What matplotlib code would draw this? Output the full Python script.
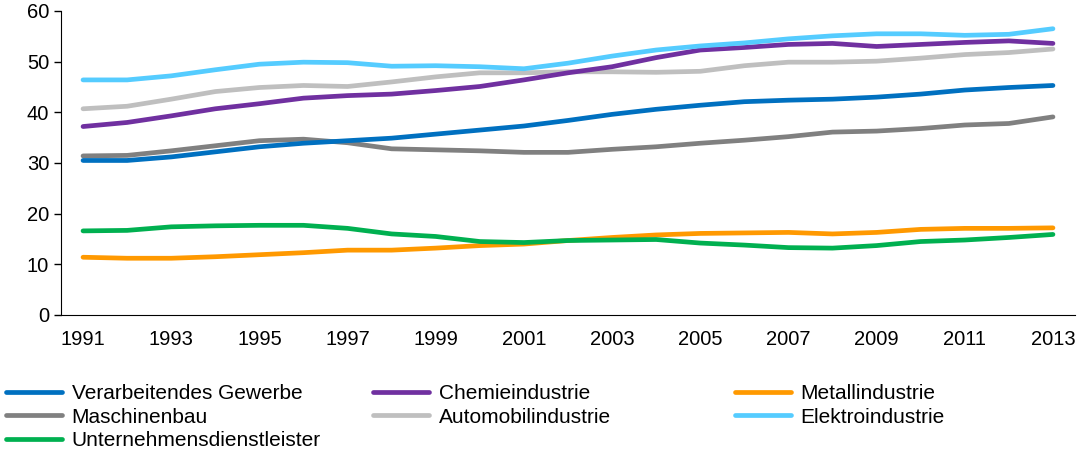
import numpy as np
import matplotlib.pyplot as plt

plt.rcParams['font.family'] = ['Liberation Sans', 'DejaVu Sans']

years = list(range(1991, 2014))

verarbeitendes = [30.5, 30.5, 31.2, 32.2, 33.2, 33.9, 34.4, 34.9, 35.7, 36.5, 37.3, 38.4,
                  39.6, 40.6, 41.4, 42.1, 42.4, 42.6, 43.0, 43.6, 44.4, 44.9, 45.3]
chemie = [37.2, 38.0, 39.3, 40.7, 41.7, 42.8, 43.3, 43.6, 44.3, 45.1, 46.4, 47.8,
          49.0, 50.8, 52.3, 52.8, 53.4, 53.6, 53.0, 53.4, 53.8, 54.1, 53.6]
metall = [11.4, 11.2, 11.2, 11.5, 11.9, 12.3, 12.8, 12.8, 13.2, 13.7, 14.0, 14.7,
          15.3, 15.8, 16.1, 16.2, 16.3, 16.0, 16.3, 16.9, 17.1, 17.1, 17.2]
maschinenbau = [31.4, 31.5, 32.4, 33.4, 34.4, 34.7, 34.0, 32.8, 32.6, 32.4, 32.1, 32.1,
                32.7, 33.2, 33.9, 34.5, 35.2, 36.1, 36.3, 36.8, 37.5, 37.8, 39.1]
automobil = [40.7, 41.2, 42.6, 44.1, 44.9, 45.3, 45.1, 46.0, 47.0, 47.8, 47.8, 48.0,
             48.0, 47.9, 48.1, 49.2, 49.9, 49.9, 50.1, 50.7, 51.4, 51.8, 52.5]
elektro = [46.4, 46.4, 47.2, 48.4, 49.5, 49.9, 49.8, 49.1, 49.2, 49.0, 48.6, 49.7,
           51.1, 52.3, 53.1, 53.7, 54.5, 55.1, 55.5, 55.5, 55.2, 55.4, 56.5]
unternehmens = [16.6, 16.7, 17.4, 17.6, 17.7, 17.7, 17.1, 16.0, 15.5, 14.5, 14.3, 14.7,
                14.8, 14.9, 14.2, 13.8, 13.3, 13.2, 13.7, 14.5, 14.8, 15.3, 15.9]

series = [
    ('Verarbeitendes Gewerbe', verarbeitendes, '#0070C0'),
    ('Chemieindustrie', chemie, '#7030A0'),
    ('Metallindustrie', metall, '#FF9900'),
    ('Maschinenbau', maschinenbau, '#808080'),
    ('Automobilindustrie', automobil, '#BFBFBF'),
    ('Elektroindustrie', elektro, '#55CCFF'),
    ('Unternehmensdienstleister', unternehmens, '#00B050'),
]

fig = plt.figure(figsize=(10.81, 4.58), dpi=100)
ax = fig.add_axes([61 / 1081, 1 - 315 / 458, (1075 - 61) / 1081, (315 - 11) / 458])

# draw order: back to front roughly like the original
draw_order = [3, 0, 4, 1, 5, 2, 6]
lines = {}
for i in draw_order:
    name, vals, col = series[i]
    ln, = ax.plot(years, vals, color=col, lw=3.4, solid_capstyle='round', label=name)
    lines[i] = ln

ax.set_xlim(1990.5, 2013.5)
ax.set_ylim(0, 60)
ax.set_yticks(range(0, 61, 10))
ax.set_xticks(range(1991, 2014, 2))
ax.spines['top'].set_visible(False)
ax.spines['right'].set_visible(False)
ax.tick_params(axis='y', length=5, labelsize=14.5, width=1)
ax.tick_params(axis='x', length=0, labelsize=14.5, pad=11)

# legend laid out as three fixed-width columns, like the original
cols = [[0, 3, 6], [1, 4], [2, 5]]
xs = [6 / 1081, 373 / 1081, 735 / 1081]
for idx, x0 in zip(cols, xs):
    fig.legend([lines[i] for i in idx], [series[i][0] for i in idx],
               loc='upper left', bbox_to_anchor=(x0, 1 - 384 / 458),
               frameon=False, fontsize=15, handlelength=2.7,
               handletextpad=0.45, labelspacing=0.22, borderpad=0,
               borderaxespad=0)

fig.savefig('out.png', dpi=100)
